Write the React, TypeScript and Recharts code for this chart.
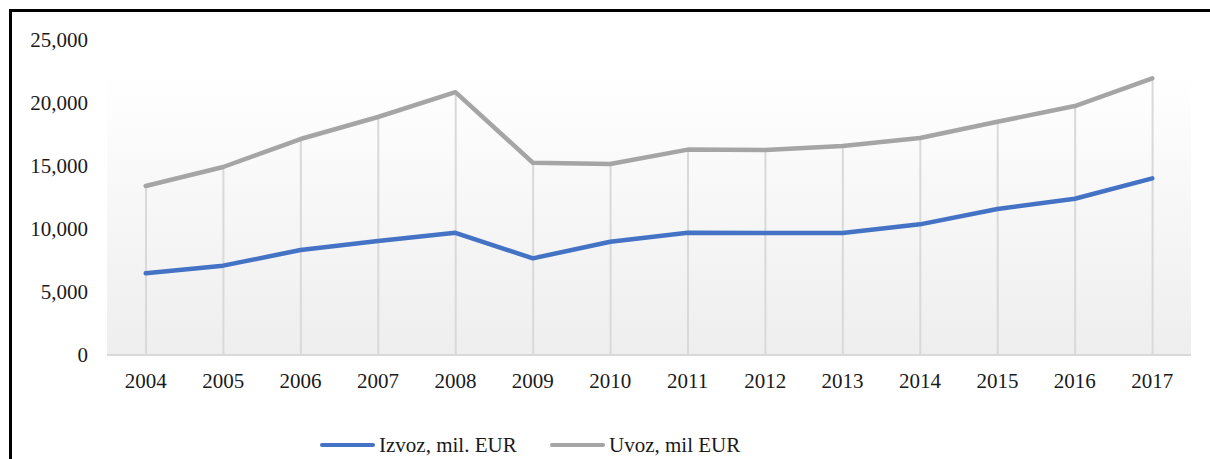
import {
  Bar,
  CartesianGrid,
  ComposedChart,
  Legend,
  Line,
  XAxis,
  YAxis,
} from "recharts";

const years = [
  "2004", "2005", "2006", "2007", "2008", "2009", "2010",
  "2011", "2012", "2013", "2014", "2015", "2016", "2017",
];
const izvoz = [6480, 7090, 8330, 9050, 9700, 7670, 8990, 9700, 9680, 9680, 10370, 11590, 12400, 14020];
const uvoz = [13410, 14920, 17140, 18890, 20860, 15260, 15160, 16300, 16270, 16590, 17220, 18510, 19760, 21960];
const yTicks = [0, 5000, 10000, 15000, 20000, 25000];

const seriesNames = { izvoz: "Izvoz, mil. EUR", uvoz: "Uvoz, mil EUR" };

const data = years.map((year, i) => ({ year, izvoz: izvoz[i], uvoz: uvoz[i], drop: uvoz[i] }));

const font = "'Liberation Serif', 'Times New Roman', serif";

function LegendBox() {
  const item = (color: string, label: string, left: number) => (
    <div style={{ position: "absolute", left, top: 0, display: "flex", alignItems: "center", height: 24 }}>
      <div style={{ width: 55, height: 4, background: color, borderRadius: 2, marginRight: 4 }} />
      <span style={{ fontFamily: font, fontSize: 21, color: "#1a1a1a", lineHeight: "24px" }}>{label}</span>
    </div>
  );
  return (
    <div style={{ position: "relative", width: 1210, height: 24 }}>
      {item("#4472c4", seriesNames.izvoz, 320)}
      {item("#a5a5a5", seriesNames.uvoz, 550)}
    </div>
  );
}

function App() {
  return (
    <div style={{ position: "absolute", left: 0, top: 0, width: 1210, height: 459, overflow: "hidden", background: "#fff" }}>
      <div
        style={{
          position: "absolute",
          left: 9,
          top: 9,
          width: 1210,
          height: 470,
          borderLeft: "3px solid #000",
          borderTop: "3px solid #000",
        }}
      />
      <div style={{ position: "absolute", left: 0, top: 0 }}>
        <ComposedChart
          width={1210}
          height={470}
          data={data}
          margin={{ top: 40, right: 19, left: 0, bottom: 13 }}
        >
          <defs>
            <linearGradient id="plotBg" x1="0" y1="0" x2="0" y2="1">
              <stop offset="0.1" stopColor="#ffffff" />
              <stop offset="1" stopColor="#eeeeee" />
            </linearGradient>
          </defs>
          <CartesianGrid horizontal={false} vertical={false} fill="url(#plotBg)" fillOpacity={1} />
          <XAxis
            dataKey="year"
            height={78}
            tickSize={0}
            tickMargin={18}
            axisLine={{ stroke: "#d9d9d9", strokeWidth: 2 }}
            tick={{ fontFamily: font, fontSize: 21, fill: "#1a1a1a" }}
            interval={0}
          />
          <YAxis
            width={107}
            domain={[0, 25000]}
            ticks={yTicks}
            tickSize={0}
            tickMargin={19}
            axisLine={false}
            tickFormatter={(v: number) => v.toLocaleString("en-US")}
            tick={{ fontFamily: font, fontSize: 21, fill: "#1a1a1a" }}
          />
          <Bar dataKey="drop" barSize={2} fill="#d9d9d9" isAnimationActive={false} legendType="none" />
          <Line
            dataKey="izvoz"
            name={seriesNames.izvoz}
            stroke="#4472c4"
            strokeWidth={4.5}
            strokeLinecap="round"
            strokeLinejoin="round"
            dot={false}
            activeDot={false}
            isAnimationActive={false}
          />
          <Line
            dataKey="uvoz"
            name={seriesNames.uvoz}
            stroke="#a5a5a5"
            strokeWidth={4.5}
            strokeLinecap="round"
            strokeLinejoin="round"
            dot={false}
            activeDot={false}
            isAnimationActive={false}
          />
          <Legend
            verticalAlign="bottom"
            height={24}
            wrapperStyle={{ left: 0, width: 1210 }}
            content={() => <LegendBox />}
          />
        </ComposedChart>
      </div>
    </div>
  );
}

export default App;
